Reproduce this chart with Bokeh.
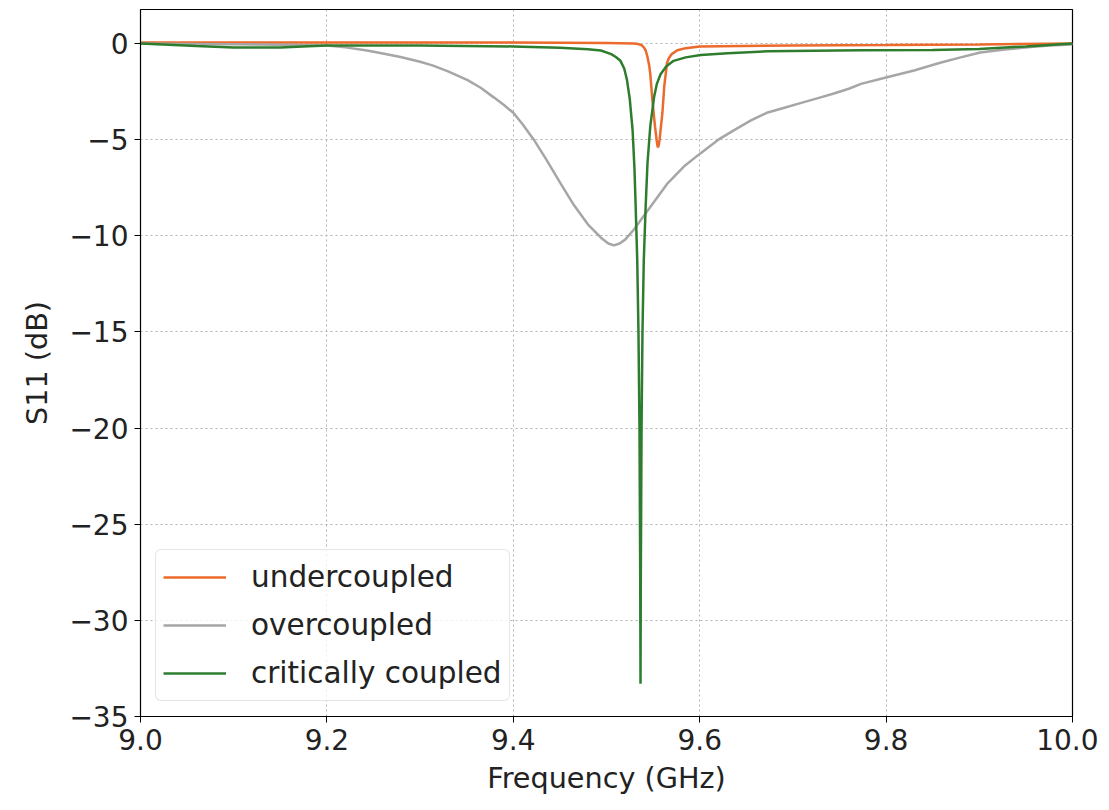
from bokeh.plotting import figure
from bokeh.models import Range1d, FixedTicker, Legend, LegendItem
from bokeh.embed import file_html
from bokeh.resources import INLINE

# ---- data ----
freq_under = [9.0, 9.1, 9.2, 9.3, 9.4, 9.5, 9.53, 9.535, 9.538, 9.540, 9.542, 9.544,
              9.546, 9.547, 9.549, 9.551, 9.552, 9.554, 9.555, 9.556, 9.557, 9.558,
              9.560, 9.562, 9.565, 9.567, 9.570, 9.576, 9.585, 9.6, 9.7, 9.8, 9.9, 10.0]
s11_under = [0.05, 0.06, 0.06, 0.06, 0.05, 0.03, 0.0, -0.04, -0.1, -0.2, -0.35, -0.7,
             -1.2, -1.6, -2.8, -3.8, -4.3, -5.1, -5.4, -5.3, -5.0, -4.5,
             -3.6, -2.2, -1.0, -0.75, -0.55, -0.35, -0.24, -0.15, -0.1, -0.08, -0.05, 0.0]

freq_over = [9.0, 9.05, 9.1, 9.15, 9.2, 9.22, 9.243, 9.26, 9.279, 9.3, 9.314, 9.33,
             9.351, 9.365, 9.379, 9.39, 9.4, 9.41, 9.422, 9.435, 9.451, 9.465, 9.48,
             9.494, 9.502, 9.508, 9.514, 9.52, 9.529, 9.538, 9.547, 9.556, 9.565,
             9.583, 9.601, 9.62, 9.637, 9.655, 9.672, 9.69, 9.708, 9.726, 9.744,
             9.76, 9.773, 9.801, 9.83, 9.858, 9.88, 9.901, 9.925, 9.952, 9.975, 10.0]
s11_over = [0.0, -0.02, -0.04, -0.06, -0.1, -0.2, -0.36, -0.52, -0.7, -0.95, -1.15, -1.45,
            -1.9, -2.3, -2.8, -3.2, -3.6, -4.2, -5.0, -6.0, -7.3, -8.4, -9.4,
            -10.1, -10.4, -10.5, -10.4, -10.2, -9.7, -9.1, -8.5, -7.9, -7.3,
            -6.4, -5.7, -5.0, -4.5, -4.0, -3.6, -3.35, -3.1, -2.85, -2.6,
            -2.35, -2.1, -1.75, -1.4, -1.0, -0.72, -0.47, -0.32, -0.2, -0.1, -0.05]

freq_crit = [9.0, 9.03, 9.06, 9.1, 9.15, 9.18, 9.2, 9.3, 9.4, 9.45, 9.48, 9.494,
             9.505, 9.51, 9.515, 9.519, 9.522, 9.525, 9.528, 9.530, 9.531, 9.533,
             9.5343, 9.5354, 9.5362, 9.5365, 9.5368, 9.5376, 9.5386, 9.540, 9.542,
             9.544, 9.547, 9.551, 9.554, 9.558, 9.564, 9.572, 9.585, 9.601, 9.63,
             9.673, 9.773, 9.85, 9.9, 9.95, 9.975, 10.0]
s11_crit = [0.0, -0.06, -0.13, -0.2, -0.2, -0.14, -0.1, -0.1, -0.15, -0.22, -0.3, -0.36,
            -0.55, -0.7, -0.9, -1.3, -1.9, -2.9, -4.5, -6.5, -8.0, -11.3,
            -15.0, -20.0, -28.0, -33.3, -28.0, -20.0, -15.0, -11.3, -8.5,
            -6.2, -4.3, -2.8, -2.1, -1.6, -1.2, -0.9, -0.72, -0.6, -0.5,
            -0.4, -0.35, -0.33, -0.28, -0.15, -0.07, 0.0]

x_ticks = [9.0, 9.2, 9.4, 9.6, 9.8, 10.0]
x_labels = ["9.0", "9.2", "9.4", "9.6", "9.8", "10.0"]
y_ticks = [0, -5, -10, -15, -20, -25, -30, -35]
y_labels = ["0", "\u22125", "\u221210", "\u221215", "\u221220", "\u221225", "\u221230", "\u221235"]

FONT = "DejaVu Sans"

p = figure(output_backend="svg", toolbar_location=None,
           frame_width=932, frame_height=707,
           x_range=Range1d(9.0, 10.0), y_range=Range1d(-35, 1.77),
           min_border_left=140, min_border_top=9, min_border_right=26, min_border_bottom=82)

p.background_fill_color = "white"
p.border_fill_color = "white"
p.outline_line_color = "black"
p.outline_line_width = 1.2

for ax in (p.xaxis[0], p.yaxis[0]):
    ax.major_label_text_font = FONT
    ax.major_label_text_font_size = "28px"
    ax.major_label_text_color = "#222222"
    ax.axis_label_text_font = FONT
    ax.axis_label_text_font_size = "28.7px"
    ax.axis_label_text_font_style = "normal"
    ax.axis_label_text_color = "#222222"
    ax.axis_line_color = "black"
    ax.major_tick_line_color = "black"
    ax.major_tick_in = 0
    ax.major_tick_out = 6
    ax.minor_tick_line_color = None

p.xaxis.ticker = FixedTicker(ticks=x_ticks)
p.yaxis.ticker = FixedTicker(ticks=y_ticks)
p.xaxis.major_label_overrides = {t: l for t, l in zip(x_ticks, x_labels)}
p.yaxis.major_label_overrides = {t: l for t, l in zip(y_ticks, y_labels)}
p.xaxis.axis_label = "Frequency (GHz)"
p.yaxis.axis_label = "S11 (dB)"
p.xaxis.major_label_standoff = 6
p.yaxis.major_label_standoff = 6
p.xaxis.axis_label_standoff = 8
p.yaxis.axis_label_standoff = 12

p.grid.grid_line_color = "#b0b0b0"
p.grid.grid_line_dash = "2 3"
p.grid.grid_line_width = 1

r1 = p.line(freq_under, s11_under, line_color="#ec6a2c", line_width=2.5)
r2 = p.line(freq_over, s11_over, line_color="#a6a6a6", line_width=2.5)
r3 = p.line(freq_crit, s11_crit, line_color="#2e7d2e", line_width=2.5)

legend = Legend(items=[LegendItem(label="undercoupled", renderers=[r1]),
                       LegendItem(label="overcoupled", renderers=[r2]),
                       LegendItem(label="critically coupled", renderers=[r3])],
                location="bottom_left", margin=15)
legend.label_text_font = FONT
legend.label_text_font_size = "29.5px"
legend.label_text_color = "#222222"
legend.glyph_width = 63
legend.glyph_height = 40
legend.label_height = 40
legend.label_standoff = 25
legend.spacing = 8
legend.padding = 7
legend.border_line_color = "#cccccc"
legend.border_line_width = 1
legend.border_radius = 6
legend.background_fill_alpha = 0.8
p.add_layout(legend)

open("out.html", "w").write(file_html(p, INLINE))
